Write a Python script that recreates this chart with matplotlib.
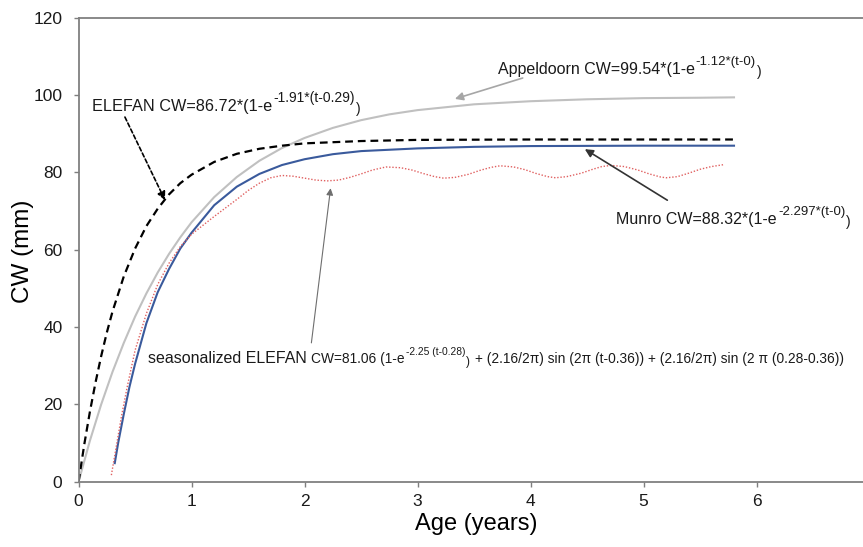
import matplotlib
matplotlib.use('Agg')
import matplotlib.pyplot as plt
from matplotlib import transforms

plt.rcParams['font.family'] = ['Liberation Sans', 'DejaVu Sans']

# values (age in years, CW in mm)
appeldoorn_t = [0, 0.1, 0.2, 0.3, 0.4, 0.5, 0.6, 0.7, 0.8, 0.9, 1.0, 1.2, 1.4, 1.6,
                1.8, 2.0, 2.25, 2.5, 2.75, 3.0, 3.5, 4.0, 4.5, 5.0, 5.5, 5.8]
appeldoorn_cw = [0, 10.6, 20.0, 28.4, 35.9, 42.7, 48.7, 54.1, 58.9, 63.2, 67.1, 73.6, 78.8, 83.0,
                 86.3, 88.9, 91.5, 93.5, 95.0, 96.1, 97.6, 98.4, 98.9, 99.2, 99.3, 99.4]

elefan_t = [0, 0.05, 0.1, 0.15, 0.2, 0.25, 0.3, 0.4, 0.5, 0.6, 0.7, 0.8, 0.9, 1.0,
            1.2, 1.4, 1.6, 1.8, 2.0, 2.5, 3.0, 4.0, 5.0, 5.8]
elefan_cw = [0, 9.6, 18.1, 25.7, 32.5, 38.6, 44.0, 53.1, 60.3, 66.1, 70.6, 74.3, 77.2, 79.4,
             82.7, 84.8, 86.1, 86.9, 87.5, 88.1, 88.4, 88.5, 88.5, 88.5]

munro_t = [0.32, 0.35, 0.4, 0.45, 0.5, 0.6, 0.7, 0.8, 0.9, 1.0, 1.2, 1.4, 1.6, 1.8,
           2.0, 2.25, 2.5, 3.0, 3.5, 4.0, 5.0, 5.8]
munro_cw = [4.8, 10.0, 17.5, 24.5, 30.5, 41.0, 49.0, 55.0, 60.3, 64.4, 71.5, 76.3, 79.6, 81.9,
            83.4, 84.7, 85.5, 86.2, 86.6, 86.8, 86.9, 86.9]

seasonal_t = [0.29, 0.33, 0.38, 0.43, 0.5, 0.6, 0.7, 0.8, 0.9, 1.0, 1.1, 1.2, 1.3, 1.4,
              1.5, 1.6, 1.7, 1.8, 1.9, 2.0, 2.1, 2.2, 2.3, 2.4, 2.5, 2.6, 2.72, 2.85,
              2.95, 3.05, 3.15, 3.23, 3.33, 3.45, 3.55, 3.65, 3.73, 3.85, 3.95, 4.05,
              4.15, 4.22, 4.32, 4.45, 4.55, 4.63, 4.71, 4.83, 4.95, 5.05, 5.15, 5.2,
              5.3, 5.4, 5.5, 5.6, 5.71]
seasonal_cw = [1.7, 8.5, 17.0, 24.5, 34.0, 43.5, 51.0, 56.5, 60.8, 64.0, 66.3, 68.6, 70.8, 73.0,
               75.3, 77.2, 78.6, 79.2, 79.0, 78.5, 78.0, 77.8, 78.0, 78.7, 79.6, 80.6, 81.4, 81.2,
               80.6, 79.7, 78.9, 78.5, 78.7, 79.5, 80.5, 81.3, 81.7, 81.4, 80.7, 79.7,
               78.9, 78.6, 78.9, 79.8, 80.8, 81.5, 81.8, 81.5, 80.6, 79.6, 78.8, 78.6,
               78.9, 79.8, 80.8, 81.5, 82.0]

x_ticks = [0, 1, 2, 3, 4, 5, 6]
y_ticks = [0, 20, 40, 60, 80, 100, 120]

fig = plt.figure(figsize=(8.63, 5.47), dpi=100)
ax = fig.add_axes([78.6 / 863, 1 - 481.7 / 547, 7 * 113 / 863, 464 / 547])

ax.plot(appeldoorn_t, appeldoorn_cw, color='#c0c0c0', lw=1.5)
ax.plot(elefan_t, elefan_cw, color='black', lw=1.6, linestyle=(0, (3.5, 2.2)))
ax.plot(munro_t, munro_cw, color='#3a5a9c', lw=1.5)
ax.plot(seasonal_t, seasonal_cw, color='#e06060', lw=1.0, linestyle=(0, (1, 1.3)))

ax.set_xlim(0, 7)
ax.set_ylim(0, 120)
ax.set_xticks(x_ticks)
ax.set_yticks(y_ticks)
ax.tick_params(axis='both', labelsize=12.5, length=3.6, width=1, color='#7f7f7f',
               direction='out', labelcolor='#1a1a1a')
ax.tick_params(axis='y', pad=8)
ax.tick_params(axis='x', pad=5.5)
ax.spines['right'].set_visible(False)
for side in ['left', 'bottom', 'top']:
    ax.spines[side].set_color('#808080')
    ax.spines[side].set_linewidth(1.3)

fig.text(22.5 / 863, 1 - 251 / 547, 'CW (mm)', rotation=90, fontsize=17.5,
         ha='center', va='center')
fig.text(476 / 863, 1 - 524 / 547, 'Age (years)', fontsize=17, ha='center', va='center')

renderer = fig.canvas.get_renderer()


def rich_text(x, y, parts):
    """Draws pieces of text one after another, each with its own size and rise (pixels)"""
    dx = 0.0
    for s, size, rise, gap in parts:
        dx += gap
        tr = transforms.offset_copy(ax.transData, fig=fig, x=dx, y=rise, units='dots')
        t = ax.text(x, y, s, fontsize=size, transform=tr, ha='left', va='baseline',
                    color='#1a1a1a')
        dx += t.get_window_extent(renderer).width + 1
    return dx


rich_text(0.116, 95.9, [('ELEFAN CW=86.72*(1-e', 11.7, 0, 0),
                        ('-1.91*(t-0.29)', 10, 9, 0),
                        (')', 10, -2, 0)])
rich_text(3.71, 105.4, [('Appeldoorn CW=99.54*(1-e', 11.5, 0, 0),
                        ('-1.12*(t-0)', 9.5, 9, 0),
                        (')', 10, -2, 0)])
rich_text(4.76, 66.6, [('Munro CW=88.32*(1-e', 11.5, 0, 0),
                       ('-2.297*(t-0)', 9.5, 9, 0),
                       (')', 10, -2, 0)])
w = rich_text(0.617, 30.6, [('seasonalized ELEFAN', 11.5, 0, 0)])
rich_text(0.617, 30.6, [('CW=81.06 (1-e', 9.9, 0, w + 3),
                        ('-2.25 (t-0.28)', 7.4, 8, 0),
                        (')', 8.6, -2, 0),
                        ('+ (2.16/2\u03c0) sin (2\u03c0 (t-0.36)) + (2.16/2\u03c0) sin (2 \u03c0 (0.28-0.36))',
                         9.9, 0, 4)])

ax.annotate('', xy=(0.765, 72.8), xytext=(0.41, 94.3),
            arrowprops=dict(arrowstyle='-|>', color='black', lw=1.2, linestyle=(0, (2.5, 1.5)),
                            mutation_scale=12, shrinkA=0, shrinkB=0))
ax.annotate('', xy=(3.33, 99.0), xytext=(3.93, 104.4),
            arrowprops=dict(arrowstyle='-|>', color='#a6a6a6', lw=1.2,
                            mutation_scale=12, shrinkA=0, shrinkB=0))
ax.annotate('', xy=(4.48, 86.0), xytext=(5.21, 72.8),
            arrowprops=dict(arrowstyle='-|>', color='#333333', lw=1.2,
                            mutation_scale=12, shrinkA=0, shrinkB=0))
ax.annotate('', xy=(2.23, 75.9), xytext=(2.06, 35.9),
            arrowprops=dict(arrowstyle='-|>', color='#6e6e6e', lw=0.8,
                            mutation_scale=10, shrinkA=0, shrinkB=0))

fig.savefig('out.png', dpi=100)
